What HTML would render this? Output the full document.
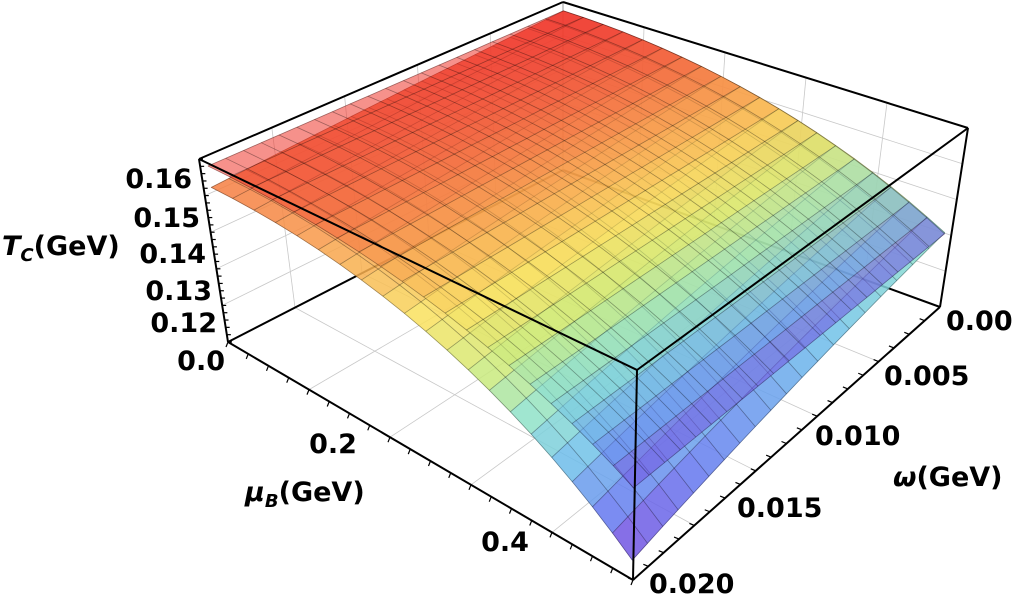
<!DOCTYPE html>
<html><head><meta charset="utf-8"><style>
html,body{margin:0;padding:0;background:#fff;width:1019px;height:607px;overflow:hidden}
svg{display:block}
text{font-family:"DejaVu Sans","Liberation Sans",sans-serif;font-weight:bold;font-size:27px;fill:#000}
</style></head><body>
<svg id="s" width="1019" height="607" viewBox="0 0 1019 607" xmlns="http://www.w3.org/2000/svg">
<g id="back"></g><g id="surf"></g><g id="front"></g>
<text x="192" y="188" text-anchor="end">0.16</text>
<text x="200" y="227" text-anchor="end">0.15</text>
<text x="206" y="263" text-anchor="end">0.14</text>
<text x="212" y="300" text-anchor="end">0.13</text>
<text x="217" y="332" text-anchor="end">0.12</text>
<text x="225" y="370" text-anchor="end">0.0</text>
<text x="333" y="453" text-anchor="middle">0.2</text>
<text x="505" y="551" text-anchor="middle">0.4</text>
<text x="245" y="501"><tspan font-style="italic">μ</tspan><tspan font-style="italic" font-size="18" dy="6">B</tspan><tspan dy="-6">(GeV)</tspan></text>
<text x="2" y="255"><tspan font-style="italic">T</tspan><tspan font-style="italic" font-size="18" dy="6">C</tspan><tspan dy="-6">(GeV)</tspan></text>
<text x="946" y="330">0.00</text>
<text x="884" y="385">0.005</text>
<text x="815" y="445">0.010</text>
<text x="737" y="517">0.015</text>
<text x="649" y="593">0.020</text>
<text x="893" y="486"><tspan font-style="italic">ω</tspan>(GeV)</text>
</svg>
<script>
var NS="http://www.w3.org/2000/svg";
var bL=[228,342],bF=[633,580],bR=[940,307],bB=[563,170];
var tL=[199,159],tF=[637,370],tR=[968,128],tB=[563,2];
function bil(p00,p10,p11,p01,u,w){
 return [ (1-u)*(1-w)*p00[0]+u*(1-w)*p10[0]+u*w*p11[0]+(1-u)*w*p01[0],
          (1-u)*(1-w)*p00[1]+u*(1-w)*p10[1]+u*w*p11[1]+(1-u)*w*p01[1]];}
var zmin=0.1144,zmax=0.1653;
function P(u,w,T){var h=(T-zmin)/(zmax-zmin);var a=bil(bB,bR,bF,bL,u,w),b=bil(tB,tR,tF,tL,u,w);
 return [a[0]+(b[0]-a[0])*h,a[1]+(b[1]-a[1])*h];}
function el(tag,at,par){var e=document.createElementNS(NS,tag);for(var k in at)e.setAttribute(k,at[k]);document.getElementById(par).appendChild(e);return e;}
function line(p,q,c,wd,par){el("line",{x1:p[0],y1:p[1],x2:q[0],y2:q[1],stroke:c,"stroke-width":wd},par);}
var g="#c8c8c8";
for(var i=1;i<5;i++){var f=i/5;
 line(bil(bB,bR,bF,bL,f,1),bil(bB,bR,bF,bL,f,0),g,0.8,"back");
 line(bil(bB,bR,bF,bL,1,f),bil(bB,bR,bF,bL,0,f),g,0.8,"back");
 line(bil(bB,bR,bF,bL,f,0),bil(tB,tR,tF,tL,f,0),g,0.8,"back");
 line(bil(bB,bR,bF,bL,0,f),bil(tB,tR,tF,tL,0,f),g,0.8,"back");
 var zz=zmin+(zmax-zmin)*f;
 line(P(0,1,zz),P(0,0,zz),g,0.8,"back");line(P(0,0,zz),P(1,0,zz),g,0.8,"back");
}
line(bL,bB,"#000",2,"back");line(bB,bR,"#000",2,"back");line(bB,tB,"#999",1,"back");
var stops=[[0,[125,55,215]],[0.15,[100,120,240]],[0.3,[110,190,235]],[0.42,[140,225,205]],[0.55,[205,235,120]],[0.68,[250,225,95]],[0.82,[248,160,75]],[1,[240,55,45]]];
function col(T,lo,hi){var t=(T-lo)/(hi-lo);t=Math.max(0,Math.min(1,t));
 for(var i=1;i<stops.length;i++){if(t<=stops[i][0]){var a=stops[i-1],b=stops[i],f=(t-a[0])/(b[0]-a[0]);
 return "rgb("+[0,1,2].map(function(k){return Math.round(a[1][k]+(b[1][k]-a[1][k])*f)}).join(",")+")";}}return "rgb(240,55,45)";}
function S1(u,w){return 0.1635-0.0285*u*u;}
function S2(u,w){return 0.1635-0.006*w-u*u*(0.028+0.0125*w);}
var N=20,u0=0.01,u1=0.99;
function surface(F,op,lo,hi){var qs=[];
 for(var i=0;i<N;i++)for(var j=0;j<N;j++){var ua=u0+(u1-u0)*i/N,ub=u0+(u1-u0)*(i+1)/N,wa=u0+(u1-u0)*j/N,wb=u0+(u1-u0)*(j+1)/N;qs.push([ua,ub,wa,wb]);}
 qs.sort(function(a,b){return (a[0]+a[2])-(b[0]+b[2]);});
 var g=el("g",{opacity:op},"surf");
 qs.forEach(function(q){var pts=[P(q[0],q[2],F(q[0],q[2])),P(q[1],q[2],F(q[1],q[2])),P(q[1],q[3],F(q[1],q[3])),P(q[0],q[3],F(q[0],q[3]))];
  var c=col(F((q[0]+q[1])/2,(q[2]+q[3])/2),lo,hi);
  var e=document.createElementNS(NS,"polygon");e.setAttribute("points",pts.map(function(p){return p[0].toFixed(1)+","+p[1].toFixed(1)}).join(" "));
  e.setAttribute("fill",c);e.setAttribute("stroke",c);e.setAttribute("stroke-width","0.6");g.appendChild(e);});
 var M=20;
 for(var k=0;k<=M;k++){var a=u0+(u1-u0)*k/M,s1="",s2="";
  for(var m=0;m<=20;m++){var b=u0+(u1-u0)*m/20;var p=P(a,b,F(a,b)),q=P(b,a,F(b,a));s1+=p[0].toFixed(1)+","+p[1].toFixed(1)+" ";s2+=q[0].toFixed(1)+","+q[1].toFixed(1)+" ";}
  el("polyline",{points:s1,fill:"none",stroke:"rgba(0,0,0,0.35)","stroke-width":0.8},"surf");
  el("polyline",{points:s2,fill:"none",stroke:"rgba(0,0,0,0.35)","stroke-width":0.8},"surf");}
}
surface(S2,0.85,0.117,0.1635);
surface(S1,0.55,0.135,0.1635);
[[tL,tB],[tB,tR],[tR,tF],[tF,tL],[tF,bF],[bL,bF],[bF,bR],[bL,tL],[bR,tR]].forEach(function(e){line(e[0],e[1],"#000",2,"front");});
function ticks(p,q,n,dx,dy){for(var i=0;i<=n;i++){var f=i/n;var x=p[0]+(q[0]-p[0])*f,y=p[1]+(q[1]-p[1])*f;line([x,y],[x+dx,y+dy],"#000",1.2,"front");}}
ticks(bL,bF,20,-2,5);ticks(bF,bR,20,-5,-2);ticks(bL,tL,25,4,0);
</script>
</body></html>
